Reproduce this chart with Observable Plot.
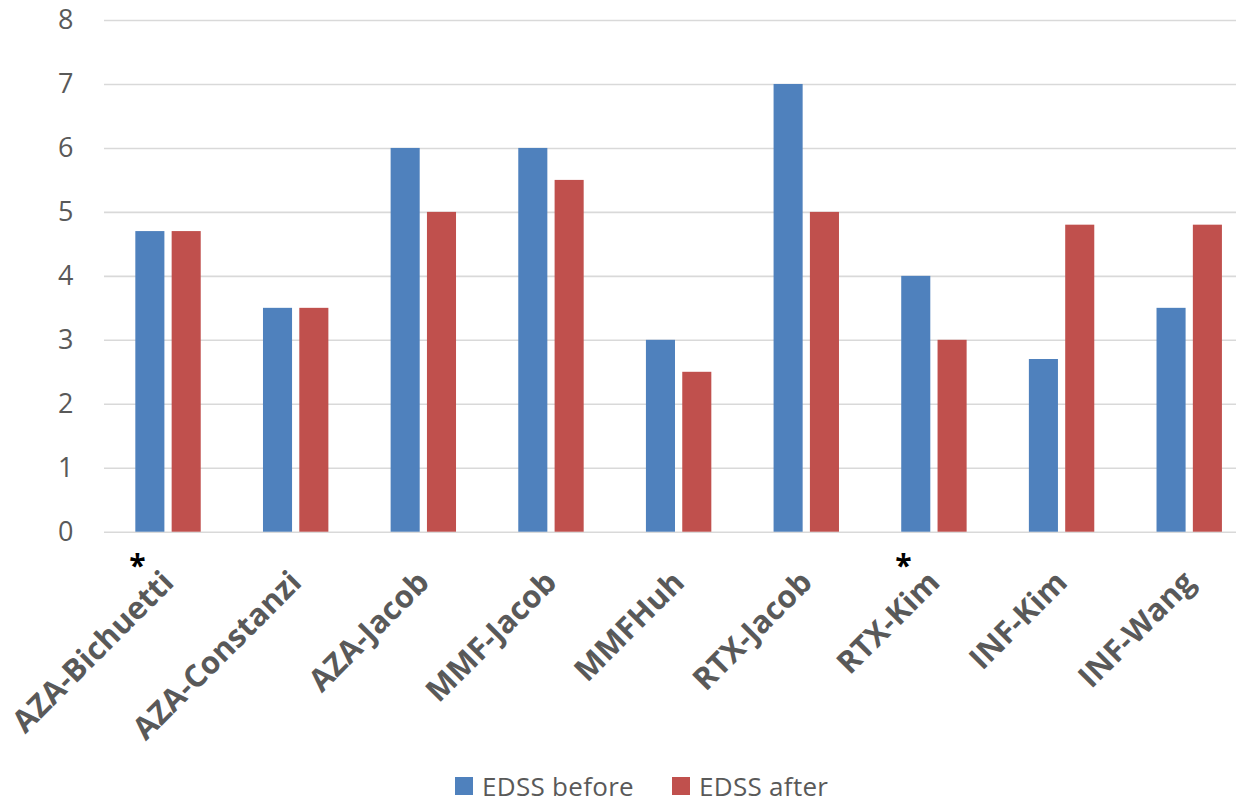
<!DOCTYPE html>
<html>
<head>
<meta charset="utf-8">
<script src="https://cdn.jsdelivr.net/npm/d3@7"></script>
<script src="https://cdn.jsdelivr.net/npm/@observablehq/plot@0.6"></script>
<style>
  html, body { margin: 0; padding: 0; background: #fff; overflow: hidden; }
  body { width: 1236px; height: 804px; position: relative; font-family: "Open Sans", sans-serif; }
  #chart svg { display: block; overflow: hidden; }
  #chart g[aria-label="x-axis tick label"] text { font-weight: bold; }
  .legend { position: absolute; left: 455px; top: 773px; height: 26px;
            display: flex; align-items: center;
            font-size: 26px; color: #595959; font-family: "Open Sans", sans-serif; }
  .legend .item { display: flex; align-items: center; margin-right: 38px; }
  .legend .sw { width: 18px; height: 18px; margin-right: 9px; }
  .legend span { display: inline-block; height: 26px; line-height: 26px; letter-spacing: 0.3px; }
</style>
</head>
<body>
<div id="chart"></div>
<div class="legend">
  <div class="item"><div class="sw" style="background:#4F81BD"></div><span>EDSS before</span></div>
  <div class="item"><div class="sw" style="background:#C0504D"></div><span>EDSS after</span></div>
</div>
<script>
// Studies (treatment-author) and mean EDSS before / after treatment
const categories = ["AZA-Bichuetti", "AZA-Constanzi", "AZA-Jacob", "MMF-Jacob", "MMFHuh",
                    "RTX-Jacob", "RTX-Kim", "INF-Kim", "INF-Wang"];
const edssBefore = [4.7, 3.5, 6, 6, 3, 7, 4, 2.7, 3.5];
const edssAfter  = [4.7, 3.5, 5, 5.5, 2.5, 5, 3, 4.8, 4.8];
const yTicks = [0, 1, 2, 3, 4, 5, 6, 7, 8];
const starred = ["AZA-Bichuetti", "RTX-Kim"];

const rows = categories.map((study, i) => ({study, before: edssBefore[i], after: edssAfter[i]}));

const blue = "#4F81BD";
const red = "#C0504D";

// band geometry: each study owns one band; two bars sit in its middle
const step = 127.65;
const barW = 29.07;
const gap = 7.26;
const outer = (step - 2 * barW - gap) / 2;

const chart = Plot.plot({
  width: 1236,
  height: 772,
  marginLeft: 104,
  marginRight: 0,
  marginTop: 20,
  marginBottom: 240.3,
  style: {color: "#595959", fontFamily: "Open Sans, sans-serif", background: "#fff"},
  x: {domain: categories, range: [104.2, 104.2 + step * categories.length], padding: 0, round: false},
  y: {domain: [0, 8]},
  marks: [
    Plot.ruleY(yTicks, {stroke: "#D9D9D9", strokeWidth: 1.6}),
    Plot.barY(rows, {x: "study", y: "before", fill: blue, insetLeft: outer, insetRight: outer + barW + gap}),
    Plot.barY(rows, {x: "study", y: "after", fill: red, insetLeft: outer + barW + gap, insetRight: outer}),
    Plot.axisY({ticks: yTicks, tickSize: 0, tickPadding: 31, fontSize: 27, label: null}),
    Plot.axisX({tickRotate: -45, tickSize: 0, tickPadding: 45, fontSize: 31, label: null}),
    Plot.text(starred, {x: d => d, y: 0, text: () => "*", dx: -31, dy: 34, fontSize: 30,
                        fontWeight: "bold", fill: "#000"})
  ]
});
document.getElementById("chart").appendChild(chart);
</script>
</body>
</html>
